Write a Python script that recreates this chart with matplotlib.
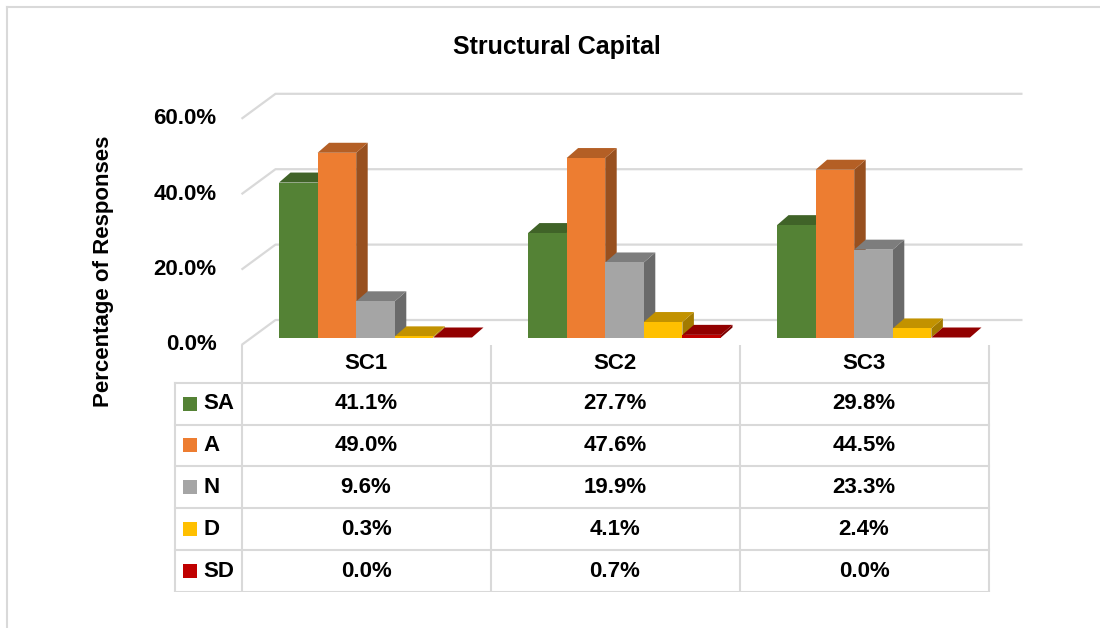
import matplotlib
matplotlib.use("Agg")
import matplotlib.pyplot as plt
import numpy as np
from matplotlib.patches import Polygon, Rectangle
from matplotlib.lines import Line2D

plt.rcParams["font.family"] = ["Liberation Sans", "DejaVu Sans"]
plt.rcParams["font.weight"] = "bold"

categories = ["SC1", "SC2", "SC3"]
series = ["SA", "A", "N", "D", "SD"]
sa = [41.1, 27.7, 29.8]
a = [49.0, 47.6, 44.5]
n = [9.6, 19.9, 23.3]
d = [0.3, 4.1, 2.4]
sd = [0.0, 0.7, 0.0]
yticks = [0, 20, 40, 60]

values = [sa, a, n, d, sd]
colors = ["#548235", "#ED7D31", "#A5A5A5", "#FFC000", "#C00000"]

W, H = 1100, 628
fig = plt.figure(figsize=(W / 100, H / 100), dpi=100)

# pixel scale of the plot: one category = 249 px, 1 % = 3.77 px
cat_px = 249.0
pct_px = 3.77
x0_px = 375.5      # centre of first group on the bar plane
y0_px = 337.5      # zero line on the bar plane

ax = fig.add_axes([0, 0, 1, 1])
ax.set_xlim(-x0_px / cat_px, (W - x0_px) / cat_px)
ax.set_ylim((y0_px - H) / pct_px, y0_px / pct_px)
ax.axis("off")

# depth offsets (data units) relative to the plane the bars stand on
front = (-9.5 / cat_px, -7.5 / pct_px)
back = (24.5 / cat_px, 17.5 / pct_px)
bar_depth = (11.5 / cat_px, 10 / pct_px)

grid_c = "#d9d9d9"
fs = 16

# walls: side + back gridlines
xl_front = -0.5 + front[0]
xl_back = -0.5 + back[0]
xr_back = len(categories) - 0.5 + back[0]
for v in yticks:
    ax.plot([xl_front, xl_back, xr_back],
            [v + front[1], v + back[1], v + back[1]],
            color=grid_c, lw=1.6, solid_capstyle="butt", zorder=1)
    ax.text(xl_front - 25 / cat_px, v + front[1], f"{v:.1f}%",
            ha="right", va="center", fontsize=fs, fontweight="bold")


def shade(c, f):
    rgb = np.array(matplotlib.colors.to_rgb(c))
    return tuple(rgb * f)


bw = 0.155
ddx, ddy = bar_depth
for i in range(len(categories)):
    start = i - 2.5 * bw
    for j, vals in enumerate(values):
        v = vals[i]
        xl = start + j * bw
        xr = xl + bw
        c = colors[j]
        side = [(xr, 0), (xr, v), (xr + ddx, v + ddy), (xr + ddx, ddy)]
        top = [(xl, v), (xr, v), (xr + ddx, v + ddy), (xl + ddx, v + ddy)]
        ax.add_patch(Polygon(side, closed=True, fc=shade(c, 0.64), ec="none", zorder=2))
        ax.add_patch(Polygon(top, closed=True, fc=shade(c, 0.76), ec="none", zorder=2))
        if v > 0:
            ax.add_patch(Rectangle((xl, 0), bw, v, fc=c, ec="none", zorder=2))

# data table below the plot
tab = fig.add_axes([0, (H - 592) / H, 1, (592 - 345) / H])
tab.set_xlim(ax.get_xlim())
tab.set_ylim(len(series), -0.9)
tab.axis("off")

leg_left = (175 - x0_px) / cat_px
col_edges = [k - 0.5 + front[0] for k in range(len(categories) + 1)]
lw = 1.5
for r in range(len(series) + 1):
    tab.plot([leg_left, col_edges[-1]], [r, r], color=grid_c, lw=lw, zorder=1)
tab.plot([leg_left, leg_left], [0, len(series)], color=grid_c, lw=lw, zorder=1)
for xe in col_edges:
    tab.plot([xe, xe], [-0.9, len(series)], color=grid_c, lw=lw, zorder=1)

for i, cat in enumerate(categories):
    tab.text(i + front[0], -0.47, cat, ha="center", va="center",
             fontsize=fs, fontweight="bold")
    for j, vals in enumerate(values):
        tab.text(i + front[0], j + 0.5, f"{vals[i]:.1f}%", ha="center",
                 va="center", fontsize=fs, fontweight="bold")

sq_w = 14 / cat_px
sq_h = 14 / 41.9
for j, name in enumerate(series):
    tab.add_patch(Rectangle(((183 - x0_px) / cat_px, j + 0.5 - sq_h / 2),
                            sq_w, sq_h, fc=colors[j], ec="none"))
    tab.text((203 - x0_px) / cat_px, j + 0.5, name, ha="left", va="center",
             fontsize=fs, fontweight="bold")

fig.text(557 / W, 1 - 47 / H, "Structural Capital", ha="center", va="center",
         fontsize=18, fontweight="bold")
fig.text(104 / W, 1 - 271 / H, "Percentage of Responses", ha="center",
         va="center", rotation=90, fontsize=fs, fontweight="bold")

# chart area border (top and left edges)
fig.add_artist(Line2D([7 / W, 1], [1 - 7 / H, 1 - 7 / H], color=grid_c, lw=1.5,
                      transform=fig.transFigure))
fig.add_artist(Line2D([7 / W, 7 / W], [0, 1 - 7 / H], color=grid_c, lw=1.5,
                      transform=fig.transFigure))

fig.savefig("out.png", dpi=100, facecolor="white")
